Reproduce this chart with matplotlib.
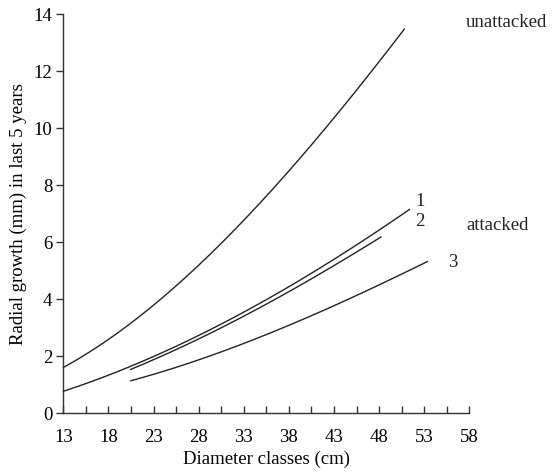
import matplotlib
matplotlib.use("Agg")
import matplotlib.pyplot as plt
import numpy as np

plt.rcParams['font.family'] = ['Liberation Serif', 'DejaVu Serif']

# Radial growth over the last 5 years by diameter class (cm)
unattacked_d = [13.0, 18.2, 23.5, 31.85, 37.0, 40.35, 50.8]
unattacked_g = [1.62, 2.58, 4.0, 6.32, 8.18, 9.35, 13.47]

attacked1_d = [13.0, 20.4, 28.15, 44.8, 51.36]
attacked1_g = [0.79, 1.58, 2.81, 5.73, 7.16]

attacked2_d = [20.47, 28.15, 44.8, 48.2]
attacked2_g = [1.54, 2.63, 5.52, 6.18]

attacked3_d = [20.47, 28.15, 44.8, 53.35]
attacked3_g = [1.14, 1.89, 4.03, 5.32]

x_major = [13, 18, 23, 28, 33, 38, 43, 48, 53, 58]
x_minor = [15.5, 20.5, 25.5, 30.5, 35.5, 40.5, 45.5, 50.5, 55.5]
y_ticks = [0, 2, 4, 6, 8, 10, 12, 14]


def smooth(xs, ys, n=200):
    xs = np.asarray(xs, float)
    ys = np.asarray(ys, float)
    deg = min(3, len(xs) - 1)
    coef = np.polyfit(xs, ys, deg)
    xx = np.linspace(xs[0], xs[-1], n)
    return xx, np.polyval(coef, xx)


fig = plt.figure(figsize=(5.54, 4.73), dpi=100)
ax = fig.add_axes([0.1143, 0.1262, 0.7328, 0.8442])

for d, g in [(unattacked_d, unattacked_g), (attacked1_d, attacked1_g),
             (attacked2_d, attacked2_g), (attacked3_d, attacked3_g)]:
    xx, yy = smooth(d, g)
    ax.plot(xx, yy, color='#222222', lw=1.0, clip_on=False)

ax.set_xlim(13, 58)
ax.set_ylim(0, 14)
ax.spines['top'].set_visible(False)
ax.spines['right'].set_visible(False)
for s in ('left', 'bottom'):
    ax.spines[s].set_linewidth(1.0)
    ax.spines[s].set_color('#333333')

fs = 13.5
ax.set_xticks(x_major)
ax.set_xticks(x_minor, minor=True)
ax.set_yticks(y_ticks)
ax.tick_params(axis='x', which='both', direction='in', length=5, width=1.0,
               color='#333333', labelsize=fs, pad=11)
ax.tick_params(axis='y', direction='out', length=5, width=1.0,
               color='#333333', labelsize=fs, pad=3)

ax.set_xlabel('Diameter classes (cm)', fontsize=fs, labelpad=4)
ax.set_ylabel('Radial growth (mm) in last 5 years', fontsize=fs, labelpad=5)

txt = dict(fontsize=fs, color='#222222', clip_on=False)
ax.text(52.0, 7.42, '1', ha='left', va='center', **txt)
ax.text(52.0, 6.72, '2', ha='left', va='center', **txt)
ax.text(55.6, 5.30, '3', ha='left', va='center', **txt)
ax.text(57.7, 6.60, 'attacked', ha='left', va='center', **txt)
ax.text(57.6, 13.70, 'unattacked', ha='left', va='center', **txt)

fig.savefig('out.png', dpi=100)
